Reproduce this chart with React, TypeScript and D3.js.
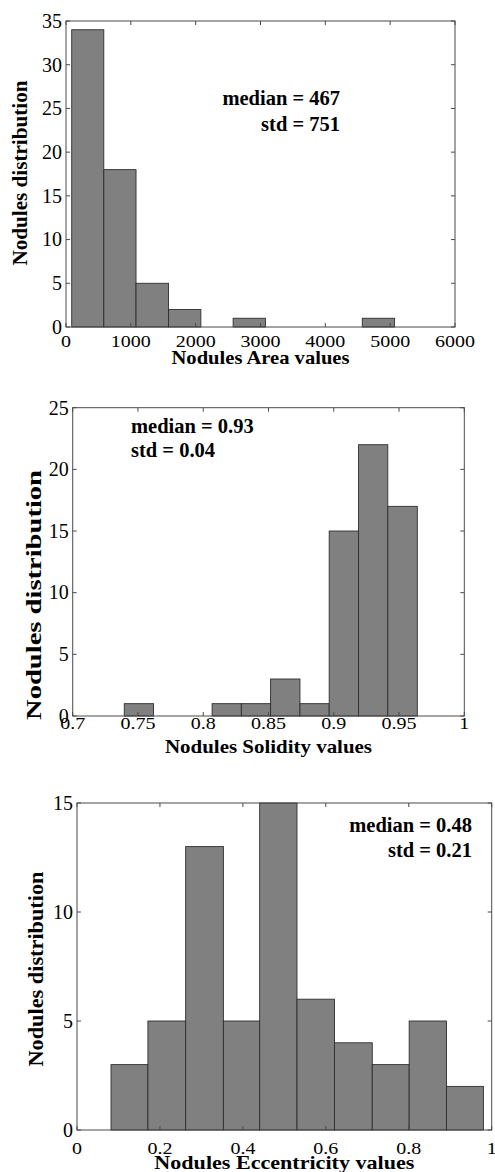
import React from "react";
import * as d3 from "d3";

// ---------- data ----------
const areaEdges = [88, 583, 1080, 1582, 2080, 2578, 3076, 3574, 4072, 4570, 5068];
const areaCounts = [34, 18, 5, 2, 0, 1, 0, 0, 0, 1];
const areaXTicks = [0, 1000, 2000, 3000, 4000, 5000, 6000];
const areaXLabels = ["0", "1000", "2000", "3000", "4000", "5000", "6000"];
const areaYTicks = [0, 5, 10, 15, 20, 25, 30, 35];

const solidityEdges = [0.7395, 0.7619, 0.7843, 0.8068, 0.8292, 0.8516, 0.8741, 0.8965, 0.919, 0.9414, 0.964];
const solidityCounts = [1, 0, 0, 1, 1, 3, 1, 15, 22, 17];
const solidityXTicks = [0.7, 0.75, 0.8, 0.85, 0.9, 0.95, 1];
const solidityXLabels = ["0.7", "0.75", "0.8", "0.85", "0.9", "0.95", "1"];
const solidityYTicks = [0, 5, 10, 15, 20, 25];

const eccEdges = [0.082, 0.171, 0.262, 0.353, 0.4405, 0.5305, 0.621, 0.712, 0.801, 0.891, 0.98];
const eccCounts = [3, 5, 13, 5, 15, 6, 4, 3, 5, 2];
const eccXTicks = [0, 0.2, 0.4, 0.6, 0.8, 1];
const eccXLabels = ["0", "0.2", "0.4", "0.6", "0.8", "1"];
const eccYTicks = [0, 5, 10, 15];

const yTitle = "Nodules distribution";
const xTitles = ["Nodules Area values", "Nodules Solidity values", "Nodules Eccentricity values"];
const statLines = [
  ["median = 467", "std = 751"],
  ["median = 0.93", "std = 0.04"],
  ["median = 0.48", "std = 0.21"],
];

const FONT = "'Liberation Serif', 'Times New Roman', Times, serif";

const panels = [
  {
    edges: areaEdges, counts: areaCounts, xTicks: areaXTicks, xLabels: areaXLabels, yTicks: areaYTicks,
    xDomain: [0, 6000], yDomain: [0, 35],
    left: 66, right: 455, top: 21, bottom: 327,
    xTickBase: 346.5, xTitle: xTitles[0], xTitleBase: 363.5, xTitleLen: 178,
    yTitleX: 26.5, yTitleY: 173, yTitleLen: 185, yTitleSize: 20,
    stats: statLines[0], statAnchor: "end", statX: 340, statY: [105, 131],
  },
  {
    edges: solidityEdges, counts: solidityCounts, xTicks: solidityXTicks, xLabels: solidityXLabels, yTicks: solidityYTicks,
    xDomain: [0.7, 1], yDomain: [0, 25],
    left: 72.7, right: 464.3, top: 407.7, bottom: 716,
    xTickBase: 729, xTitle: xTitles[1], xTitleBase: 753.3, xTitleLen: 207,
    yTitleX: 41, yTitleY: 595, yTitleLen: 250, yTitleSize: 21,
    stats: statLines[1], statAnchor: "start", statX: 131, statY: [433.3, 457.3],
  },
  {
    edges: eccEdges, counts: eccCounts, xTicks: eccXTicks, xLabels: eccXLabels, yTicks: eccYTicks,
    xDomain: [0, 1], yDomain: [0, 15],
    left: 77, right: 491.7, top: 803, bottom: 1130,
    xTickBase: 1154, xTitle: xTitles[2], xTitleBase: 1168.5, xTitleLen: 260,
    yTitleX: 43, yTitleY: 969, yTitleLen: 195, yTitleSize: 22,
    stats: statLines[2], statAnchor: "end", statX: 472, statY: [831.7, 857.3],
  },
];

function Panel({ p }: { p: any }) {
  const x = d3.scaleLinear().domain(p.xDomain).range([p.left, p.right]);
  const y = d3.scaleLinear().domain(p.yDomain).range([p.bottom, p.top]);
  const tl = 4;
  const axisColor = "#4a4a4a";
  return (
    <g>
      {/* bars */}
      {p.counts.map((c: number, i: number) =>
        c > 0 ? (
          <rect
            key={"b" + i}
            x={x(p.edges[i])}
            y={y(c)}
            width={x(p.edges[i + 1]) - x(p.edges[i])}
            height={y(0) - y(c)}
            fill="#808080"
            stroke="#2e2e2e"
            strokeWidth={0.9}
          />
        ) : null
      )}
      {/* box */}
      <rect x={p.left} y={p.top} width={p.right - p.left} height={p.bottom - p.top} fill="none" stroke={axisColor} strokeWidth={1} />
      {/* x ticks */}
      {p.xTicks.map((t: number, i: number) => (
        <g key={"xt" + i}>
          <line x1={x(t)} x2={x(t)} y1={p.bottom} y2={p.bottom - tl} stroke={axisColor} strokeWidth={1} />
          <line x1={x(t)} x2={x(t)} y1={p.top} y2={p.top + tl} stroke={axisColor} strokeWidth={1} />
          <text
            transform={`translate(${x(t)},${p.xTickBase}) scale(1,0.85)`}
            textAnchor="middle"
            fontFamily={FONT}
            fontSize={20}
            fill="#000"
          >
            {p.xLabels[i]}
          </text>
        </g>
      ))}
      {/* y ticks */}
      {p.yTicks.map((t: number, i: number) => (
        <g key={"yt" + i}>
          <line x1={p.left} x2={p.left + tl} y1={y(t)} y2={y(t)} stroke={axisColor} strokeWidth={1} />
          <line x1={p.right} x2={p.right - tl} y1={y(t)} y2={y(t)} stroke={axisColor} strokeWidth={1} />
          <text
            x={p.left - 4}
            y={y(t)}
            dy="0.34em"
            textAnchor="end"
            fontFamily={FONT}
            fontSize={20}
            fill="#000"
          >
            {t}
          </text>
        </g>
      ))}
      {/* x title */}
      <text
        transform={`translate(${(p.left + p.right) / 2},${p.xTitleBase}) scale(1,0.85)`}
        textAnchor="middle"
        fontFamily={FONT}
        fontWeight="bold"
        fontSize={21}
        textLength={p.xTitleLen}
        lengthAdjust="spacingAndGlyphs"
        fill="#000"
      >
        {p.xTitle}
      </text>
      {/* y title */}
      <text
        transform={`translate(${p.yTitleX},${p.yTitleY}) rotate(-90)`}
        textAnchor="middle"
        fontFamily={FONT}
        fontWeight="bold"
        fontSize={p.yTitleSize}
        textLength={p.yTitleLen}
        lengthAdjust="spacingAndGlyphs"
        fill="#000"
      >
        {yTitle}
      </text>
      {/* stats */}
      {p.stats.map((s: string, i: number) => (
        <text
          key={"s" + i}
          x={p.statX}
          y={p.statY[i]}
          textAnchor={p.statAnchor}
          fontFamily={FONT}
          fontWeight="bold"
          fontSize={20.5}
          fill="#000"
        >
          {s}
        </text>
      ))}
    </g>
  );
}

export default function App() {
  return (
    <svg
      width={495}
      height={1172}
      viewBox="0 0 495 1172"
      style={{ position: "absolute", left: 0, top: 0, background: "#fff" }}
    >
      <rect x={0} y={0} width={495} height={1172} fill="#fff" />
      {panels.map((p, i) => (
        <Panel key={i} p={p} />
      ))}
    </svg>
  );
}
